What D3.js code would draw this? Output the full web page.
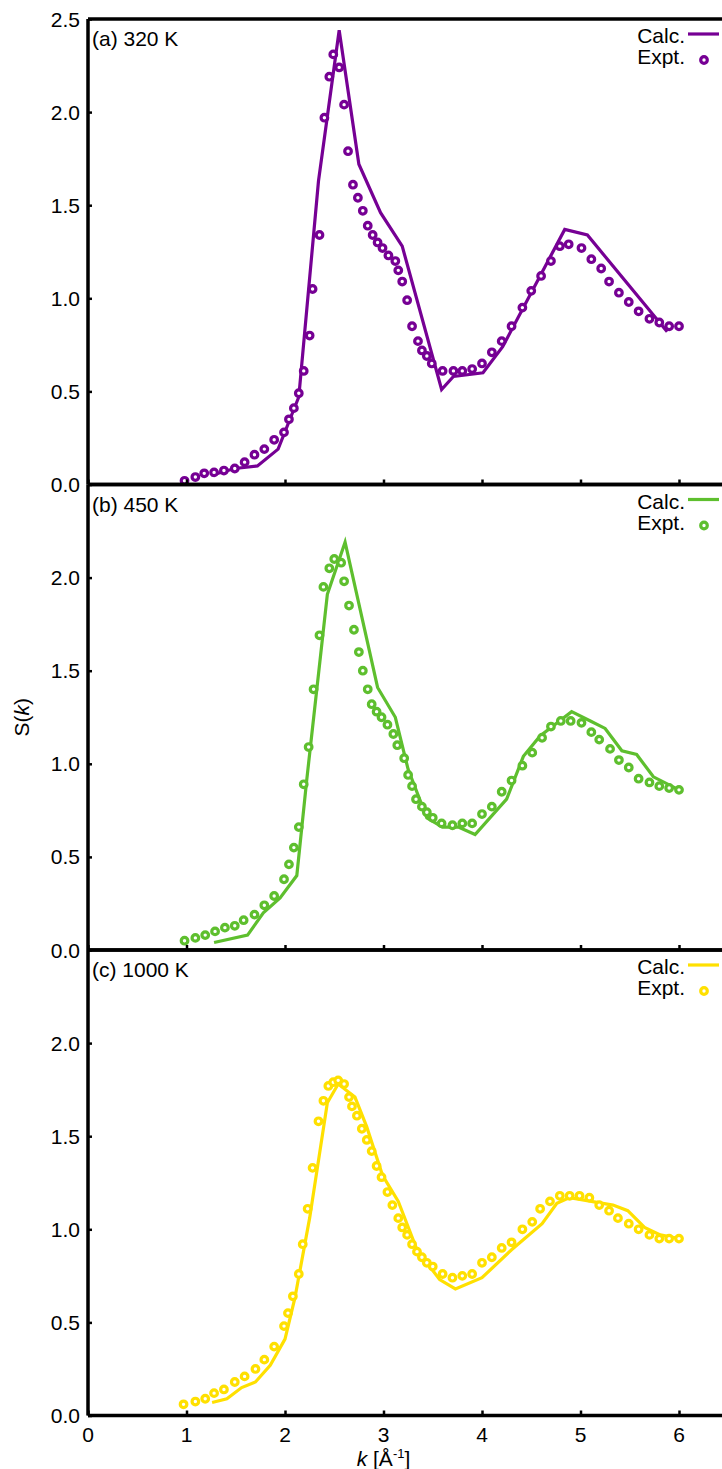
<!DOCTYPE html>
<html>
<head>
<meta charset="utf-8">
<script src="https://cdn.jsdelivr.net/npm/d3@7"></script>
<style>
  html, body { margin: 0; padding: 0; background: #fff; overflow: hidden; }
  svg { display: block; font-family: "Liberation Sans", Arial, sans-serif; }
</style>
</head>
<body>
<svg id="chart" width="722" height="1469"></svg>
<script>
// ── Data ─────────────────────────────────────────────────────────
const panelLabels = ['(a) 320 K', '(b) 450 K', '(c) 1000 K'];
const colors      = ['#760094', '#5ebf2e', '#ffe000'];
const xTicks      = [0, 1, 2, 3, 4, 5, 6];

// (a) 320 K
const calcA = [[1.25,0.05],[1.49,0.086],[1.72,0.10],[1.93,0.19],[2.14,0.47],[2.34,1.63],[2.55,2.44],
  [2.75,1.72],[2.97,1.46],[3.19,1.28],[3.59,0.51],[3.71,0.58],[4.01,0.60],[4.21,0.74],[4.84,1.37],
  [5.07,1.34],[5.88,0.82]];
const exptA = [[0.98,0.02],[1.09,0.04],[1.18,0.06],[1.28,0.065],[1.38,0.075],[1.49,0.086],[1.59,0.12],
  [1.69,0.16],[1.79,0.19],[1.89,0.24],[1.99,0.28],[2.04,0.35],[2.09,0.41],[2.14,0.49],[2.19,0.61],
  [2.25,0.80],[2.28,1.05],[2.35,1.34],[2.40,1.97],[2.45,2.19],[2.49,2.31],[2.55,2.24],[2.60,2.04],
  [2.64,1.79],[2.69,1.61],[2.74,1.54],[2.79,1.47],[2.84,1.39],[2.89,1.34],[2.94,1.30],[2.99,1.27],
  [3.05,1.23],[3.12,1.20],[3.15,1.15],[3.19,1.09],[3.24,0.99],[3.29,0.85],[3.35,0.77],[3.39,0.72],
  [3.44,0.69],[3.49,0.65],[3.60,0.61],[3.71,0.61],[3.80,0.61],[3.90,0.62],[4.00,0.65],[4.10,0.71],
  [4.20,0.77],[4.30,0.85],[4.41,0.95],[4.50,1.04],[4.60,1.12],[4.70,1.20],[4.79,1.28],[4.88,1.29],
  [5.01,1.27],[5.11,1.21],[5.21,1.16],[5.29,1.09],[5.39,1.03],[5.49,0.98],[5.59,0.93],[5.70,0.89],
  [5.80,0.87],[5.90,0.85],[6.00,0.85]];

// (b) 450 K
const calcB = [[1.28,0.04],[1.62,0.08],[1.78,0.20],[1.95,0.28],[2.12,0.40],[2.22,0.91],[2.43,1.91],
  [2.61,2.19],[2.94,1.41],[3.12,1.25],[3.25,0.97],[3.44,0.71],[3.60,0.66],[3.76,0.66],[3.93,0.62],
  [4.25,0.81],[4.42,1.04],[4.59,1.15],[4.91,1.28],[5.10,1.23],[5.25,1.19],[5.42,1.07],[5.57,1.05],
  [5.74,0.93],[6.00,0.86]];
const exptB = [[0.98,0.05],[1.09,0.065],[1.19,0.08],[1.29,0.10],[1.39,0.12],[1.49,0.13],[1.58,0.16],
  [1.69,0.19],[1.79,0.24],[1.89,0.29],[1.99,0.38],[2.04,0.46],[2.09,0.55],[2.14,0.66],[2.19,0.89],
  [2.24,1.09],[2.29,1.40],[2.35,1.69],[2.39,1.95],[2.45,2.05],[2.50,2.10],[2.57,2.08],[2.60,1.98],
  [2.65,1.85],[2.70,1.72],[2.75,1.60],[2.79,1.50],[2.84,1.40],[2.88,1.32],[2.93,1.28],[2.98,1.25],
  [3.04,1.21],[3.10,1.16],[3.14,1.10],[3.21,1.03],[3.25,0.94],[3.29,0.88],[3.33,0.81],[3.39,0.77],
  [3.44,0.74],[3.50,0.71],[3.59,0.68],[3.70,0.67],[3.80,0.68],[3.90,0.68],[4.00,0.73],[4.10,0.77],
  [4.20,0.85],[4.30,0.91],[4.41,0.99],[4.51,1.06],[4.61,1.14],[4.70,1.20],[4.80,1.23],[4.90,1.23],
  [5.01,1.22],[5.11,1.17],[5.19,1.13],[5.30,1.08],[5.39,1.02],[5.49,0.98],[5.59,0.92],[5.70,0.90],
  [5.80,0.88],[5.90,0.87],[6.00,0.86]];

// (c) 1000 K
const calcC = [[1.26,0.07],[1.41,0.09],[1.56,0.15],[1.70,0.18],[1.85,0.27],[2.00,0.41],[2.10,0.63],
  [2.25,1.06],[2.43,1.68],[2.54,1.78],[2.71,1.71],[2.83,1.55],[2.99,1.29],[3.15,1.15],[3.34,0.89],
  [3.57,0.73],[3.73,0.68],[4.00,0.74],[4.30,0.89],[4.61,1.03],[4.76,1.14],[4.89,1.17],[5.33,1.13],
  [5.48,1.10],[5.65,1.01],[5.81,0.97],[6.00,0.95]];
const exptC = [[0.97,0.06],[1.09,0.075],[1.19,0.09],[1.28,0.12],[1.38,0.14],[1.49,0.18],[1.59,0.21],
  [1.70,0.25],[1.79,0.30],[1.89,0.37],[1.99,0.48],[2.03,0.55],[2.08,0.64],[2.14,0.76],[2.18,0.92],
  [2.23,1.11],[2.28,1.33],[2.34,1.58],[2.39,1.69],[2.44,1.77],[2.49,1.79],[2.54,1.80],[2.60,1.78],
  [2.65,1.71],[2.68,1.66],[2.73,1.61],[2.78,1.54],[2.83,1.48],[2.88,1.42],[2.93,1.34],[2.98,1.28],
  [3.04,1.20],[3.09,1.13],[3.15,1.06],[3.19,1.01],[3.24,0.97],[3.29,0.92],[3.34,0.88],[3.39,0.85],
  [3.44,0.82],[3.50,0.80],[3.60,0.76],[3.70,0.74],[3.80,0.75],[3.90,0.76],[4.00,0.82],[4.10,0.85],
  [4.20,0.90],[4.30,0.93],[4.41,1.00],[4.51,1.04],[4.59,1.11],[4.69,1.15],[4.79,1.18],[4.89,1.18],
  [4.99,1.18],[5.09,1.17],[5.19,1.13],[5.29,1.10],[5.38,1.06],[5.49,1.03],[5.59,1.00],[5.70,0.97],
  [5.80,0.95],[5.90,0.95],[6.00,0.95]];

const calcSeries = [calcA, calcB, calcC];
const exptSeries = [exptA, exptB, exptC];

// ── Layout ──────────────────────────────────────────────────────
const left = 88, top0 = 19, panelH = 465.5;
const fs = 21;
const svg = d3.select('#chart');

const x = d3.scaleLinear().domain([0, 6.5]).range([left, left + 6.5 * 98.5]);

panelLabels.forEach((label, i) => {
    const top = top0 + i * panelH;
    const y = d3.scaleLinear().domain([0, 2.5]).range([top + panelH, top]);
    const g = svg.append('g');
    const col = colors[i];

    // calc line
    g.append('path')
        .datum(calcSeries[i])
        .attr('fill', 'none')
        .attr('stroke', col)
        .attr('stroke-width', 3.2)
        .attr('d', d3.line().x(d => x(d[0])).y(d => y(d[1])));

    // expt markers
    g.selectAll('circle.expt')
        .data(exptSeries[i])
        .join('circle')
        .attr('class', 'expt')
        .attr('cx', d => x(d[0]))
        .attr('cy', d => y(d[1]))
        .attr('r', 3.3)
        .attr('fill', '#fff')
        .attr('stroke', col)
        .attr('stroke-width', 3.2);

    // y axis: inward ticks
    const yTickVals = i === 0 ? [0, 0.5, 1, 1.5, 2, 2.5] : [0, 0.5, 1, 1.5, 2];
    const yAx = g.append('g')
        .attr('transform', `translate(${left},0)`)
        .call(d3.axisRight(y).tickValues(yTickVals).tickSize(4).tickFormat(''));
    yAx.select('.domain').remove();
    yAx.selectAll('line').attr('stroke', '#000').attr('stroke-width', 2.5);
    g.selectAll('text.ylab')
        .data(yTickVals)
        .join('text')
        .attr('class', 'ylab')
        .attr('x', left - 8)
        .attr('y', d => y(d))
        .attr('dy', '0.36em')
        .attr('text-anchor', 'end')
        .attr('font-size', fs)
        .text(d => d3.format('.1f')(d));

    // x axis ticks (inward, upward)
    const xAx = g.append('g')
        .attr('transform', `translate(0,${top + panelH})`)
        .call(d3.axisTop(x).tickValues(xTicks).tickSize(5).tickFormat(''));
    xAx.select('.domain').remove();
    xAx.selectAll('line').attr('stroke', '#000').attr('stroke-width', 2.5);

    // frame lines
    g.append('line').attr('x1', left).attr('x2', 730)
        .attr('y1', top).attr('y2', top)
        .attr('stroke', '#000').attr('stroke-width', 3.5);
    g.append('line').attr('x1', left).attr('x2', 730)
        .attr('y1', top + panelH).attr('y2', top + panelH)
        .attr('stroke', '#000').attr('stroke-width', 3.5);
    g.append('line').attr('x1', left).attr('x2', left)
        .attr('y1', top).attr('y2', top + panelH)
        .attr('stroke', '#000').attr('stroke-width', 3.5);

    // panel label
    g.append('text').attr('x', 92).attr('y', top + 27)
        .attr('font-size', fs).text(label);

    // legend
    g.append('text').attr('x', 685).attr('y', top + 24)
        .attr('text-anchor', 'end').attr('font-size', fs).text('Calc.');
    g.append('line').attr('x1', 688).attr('x2', 719)
        .attr('y1', top + 15).attr('y2', top + 15)
        .attr('stroke', col).attr('stroke-width', 3.2);
    g.append('text').attr('x', 685).attr('y', top + 45)
        .attr('text-anchor', 'end').attr('font-size', fs).text('Expt.');
    g.append('circle').attr('cx', 704).attr('cy', top + 41).attr('r', 3.3)
        .attr('fill', '#fff').attr('stroke', col).attr('stroke-width', 3.2);
});

// bottom x tick labels
const bottom = top0 + 3 * panelH;
svg.selectAll('text.xlab')
    .data(xTicks)
    .join('text')
    .attr('class', 'xlab')
    .attr('x', d => x(d))
    .attr('y', bottom + 26)
    .attr('text-anchor', 'middle')
    .attr('font-size', fs)
    .text(d => d);

// axis titles
const xt = svg.append('text')
    .attr('x', x(3)).attr('y', bottom + 50)
    .attr('text-anchor', 'middle').attr('font-size', fs);
xt.append('tspan').attr('font-style', 'italic').text('k');
xt.append('tspan').text(' [Å');
xt.append('tspan').attr('font-size', 13).attr('dy', -8).text('-1');
xt.append('tspan').attr('dy', 8).text(']');

const yt = svg.append('text')
    .attr('transform', `translate(29,${top0 + 1.5 * panelH}) rotate(-90)`)
    .attr('text-anchor', 'middle').attr('font-size', fs);
yt.append('tspan').text('S(');
yt.append('tspan').attr('font-style', 'italic').text('k');
yt.append('tspan').text(')');
</script>
</body>
</html>
